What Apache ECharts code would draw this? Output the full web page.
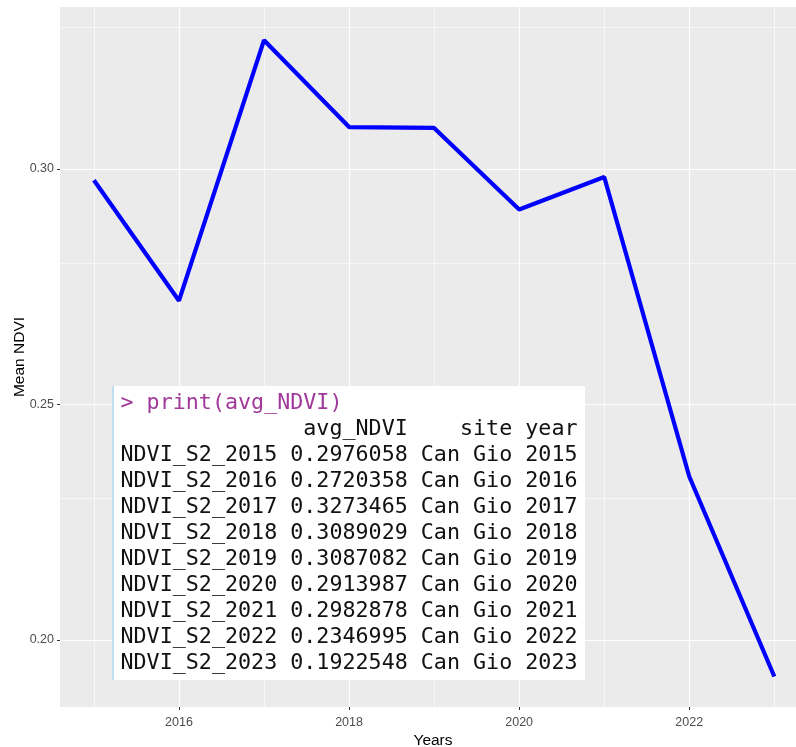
<!DOCTYPE html>
<html>
<head>
<meta charset="utf-8">
<script src="https://cdn.jsdelivr.net/npm/echarts@6/dist/echarts.min.js"></script>
<style>
  html, body { margin: 0; padding: 0; background: #fff; }
  #chart { width: 796px; height: 747px; }
</style>
</head>
<body>
<div id="chart"></div>
<script>
var years = [2015, 2016, 2017, 2018, 2019, 2020, 2021, 2022, 2023]
var avgNdvi = [0.2976058, 0.2720358, 0.3273465, 0.3089029, 0.3087082, 0.2913987, 0.2982878, 0.2346995, 0.1922548]
var site = 'Can Gio'
var xTickLabels = [2016, 2018, 2020, 2022]
var yTickLabels = [0.20, 0.25, 0.30]
var xMinorGrid = [2015, 2017, 2019, 2021, 2023]
var yMinorGrid = [0.225, 0.275, 0.325]

var chart = echarts.init(document.getElementById('chart'), null, { renderer: 'canvas' })

// console printout lines (R print layout)
var mono = '21.7px "DejaVu Sans Mono"'
var consoleLines = ['              avg_NDVI    site year']
years.forEach(function (y, i) {
  consoleLines.push('NDVI_S2_' + y + ' ' + avgNdvi[i].toFixed(7) + ' ' + site + ' ' + y)
})
var consoleText = [{
  type: 'text',
  z: 102,
  style: { text: '> print(avg_NDVI)', x: 120.5, y: 403, font: mono, fill: '#A0399B', verticalAlign: 'middle' }
}]
consoleLines.forEach(function (s, i) {
  consoleText.push({
    type: 'text',
    z: 102,
    style: { text: s, x: 120.5, y: 429 + i * 26.06, font: mono, fill: '#111111', verticalAlign: 'middle' }
  })
})

var gridLines = []
xMinorGrid.forEach(function (v) { gridLines.push({ xAxis: v, lineStyle: { width: 0.6 } }) })
xTickLabels.forEach(function (v) { gridLines.push({ xAxis: v, lineStyle: { width: 1.2 } }) })
yMinorGrid.forEach(function (v) { gridLines.push({ yAxis: v, lineStyle: { width: 0.6 } }) })
yTickLabels.forEach(function (v) { gridLines.push({ yAxis: v, lineStyle: { width: 1.2 } }) })

chart.setOption({
  animation: false,
  grid: {
    left: 60,
    right: 0,
    top: 7,
    bottom: 40,
    outerBoundsMode: 'none',
    containLabel: false,
    show: true,
    backgroundColor: '#EBEBEB',
    borderWidth: 0
  },
  xAxis: {
    type: 'value',
    min: 2014.601,
    max: 2023.255,
    name: 'Years',
    nameLocation: 'middle',
    nameGap: 26,
    nameMoveOverlap: false,
    nameTextStyle: { color: '#000', fontSize: 15.5, fontFamily: 'Liberation Sans', padding: [0, 0, 0, 10] },
    axisLine: { show: false },
    splitLine: { show: false },
    axisTick: { show: true, customValues: xTickLabels, length: 3, lineStyle: { color: '#333' } },
    axisLabel: {
      customValues: xTickLabels,
      formatter: function (v) { return String(v) },
      color: '#4D4D4D',
      fontSize: 12.5,
      fontFamily: 'Liberation Sans',
      margin: 9
    }
  },
  yAxis: {
    type: 'value',
    min: 0.18577,
    max: 0.33439,
    name: 'Mean NDVI',
    nameLocation: 'middle',
    nameGap: 32,
    nameMoveOverlap: false,
    nameTextStyle: { color: '#000', fontSize: 15.5, fontFamily: 'Liberation Sans' },
    axisLine: { show: false },
    splitLine: { show: false },
    axisTick: { show: true, customValues: yTickLabels, length: 3, lineStyle: { color: '#333' } },
    axisLabel: {
      customValues: yTickLabels,
      formatter: function (v) { return v.toFixed(2) },
      color: '#4D4D4D',
      fontSize: 12.5,
      fontFamily: 'Liberation Sans',
      margin: 6
    }
  },
  graphic: [
    { type: 'rect', shape: { x: 112, y: 386, width: 473, height: 294 }, style: { fill: '#FFFFFF' }, z: 100 },
    { type: 'line', shape: { x1: 113, y1: 386, x2: 113, y2: 680 }, style: { stroke: '#A8D4EA', lineWidth: 1.5 }, z: 101 }
  ].concat(consoleText),
  series: [
    {
      // panel grid lines
      type: 'line',
      z: 1,
      silent: true,
      symbol: 'none',
      lineStyle: { opacity: 0 },
      data: years.map(function (y, i) { return [y, avgNdvi[i]] }),
      markLine: {
        z: 1,
        silent: true,
        symbol: 'none',
        label: { show: false },
        lineStyle: { color: '#FFFFFF', type: 'solid' },
        data: gridLines
      }
    },
    {
      type: 'line',
      z: 3,
      symbol: 'none',
      lineStyle: { color: '#0000FF', width: 4.2 },
      data: years.map(function (y, i) { return [y, avgNdvi[i]] })
    }
  ]
})
</script>
</body>
</html>
